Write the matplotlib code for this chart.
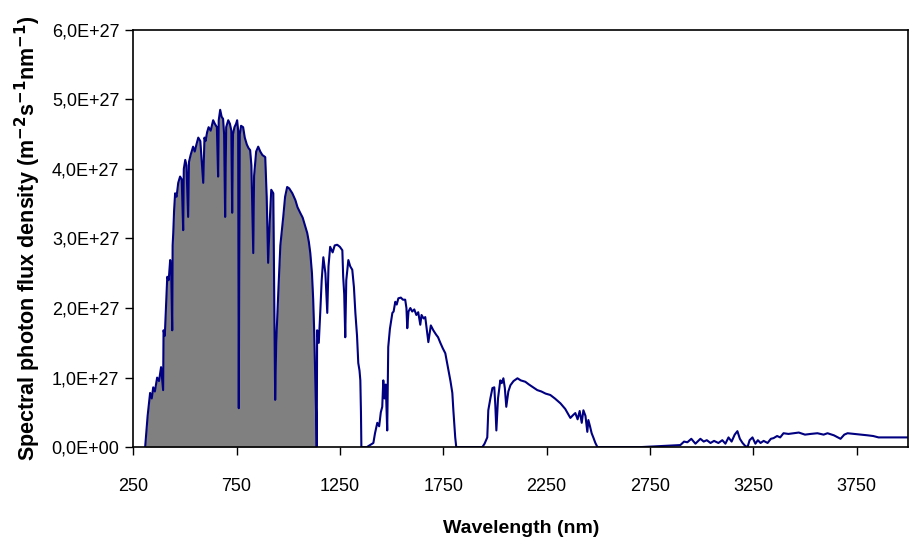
# solar spectrum, photon flux density
import numpy as np
import matplotlib.pyplot as plt
from matplotlib.ticker import FuncFormatter

# wavelength (nm) and flux (x1e27 m-2 s-1 nm-1)
wl_uv_nir = [308, 320, 332, 340, 347, 355, 366, 375, 385, 395, 397, 403, 410, 415, 422, 429,
             434, 439, 441, 444, 448, 453, 460, 468, 477, 485, 492, 495, 502, 508, 516, 520,
             528, 540, 548, 556, 565, 575, 589, 595, 600, 608, 615, 625, 637, 645, 655, 661,
             664, 671, 678, 685, 690, 695, 700, 710, 718, 725, 729, 733, 740, 748, 753, 758,
             761, 763, 766, 772, 782, 790, 800, 808, 816, 822, 828, 831, 835, 845, 855, 865,
             875, 889, 896, 903, 910, 918, 928, 932, 937, 942, 952, 962, 976, 985, 995, 1005,
             1020, 1035, 1045, 1058, 1070, 1080, 1092, 1100, 1107, 1115, 1121, 1126, 1131, 1136, 1138]
flux_uv_nir = [0.00, 0.45, 0.78, 0.70, 0.86, 0.80, 1.00, 0.95, 1.15, 0.82, 1.68, 1.60, 2.10, 2.45, 2.40, 2.69,
               2.55, 1.68, 2.90, 3.08, 3.40, 3.65, 3.60, 3.80, 3.89, 3.85, 3.12, 4.00, 4.13, 4.05, 3.31, 4.10,
               4.20, 4.32, 4.25, 4.35, 4.45, 4.40, 3.80, 4.45, 4.40, 4.53, 4.60, 4.55, 4.70, 4.65, 4.60, 3.89,
               4.70, 4.85, 4.75, 4.72, 4.50, 3.31, 4.60, 4.70, 4.65, 4.55, 3.37, 4.50, 4.60, 4.65, 4.70, 4.55,
               0.56, 2.50, 4.50, 4.62, 4.60, 4.45, 4.35, 4.30, 4.27, 4.05, 3.20, 2.79, 3.90, 4.25, 4.32, 4.25,
               4.20, 4.17, 3.60, 2.65, 3.20, 3.70, 3.65, 2.40, 0.68, 1.50, 2.22, 2.90, 3.31, 3.60, 3.74, 3.72,
               3.65, 3.55, 3.45, 3.37, 3.30, 3.20, 3.08, 2.95, 2.79, 2.50, 2.12, 1.64, 1.00, 0.35, 0.00]

wl_ir = [1140, 1148, 1155, 1162, 1170, 1180, 1189, 1195, 1203, 1215, 1225, 1237, 1250, 1262, 1266, 1271,
         1276, 1281, 1291, 1300, 1310, 1318, 1325, 1333, 1339, 1345, 1349, 1352, 1354, 1380, 1412,
         1420, 1431, 1440, 1448, 1455, 1460, 1466, 1472, 1479, 1484, 1492, 1504, 1510, 1518, 1525, 1533,
         1545, 1555, 1566, 1572, 1576, 1582, 1591, 1600, 1610, 1620, 1629, 1639, 1645, 1655, 1663, 1678,
         1690, 1702, 1715, 1725, 1736, 1748, 1760, 1775, 1785, 1794, 1799, 1808, 1813, 1880, 1939,
         1950, 1963, 1968, 1978, 1988, 1997, 2002, 2007, 2015, 2026, 2033, 2041, 2048, 2055, 2065, 2075,
         2090, 2109, 2125, 2147, 2165, 2185, 2205, 2225, 2245, 2268, 2290, 2317, 2340, 2365, 2378, 2389,
         2400, 2410, 2420, 2428, 2438, 2447, 2452, 2460, 2468, 2476, 2486, 2496, 2700, 2897,
         2915, 2931, 2950, 2970, 2994, 3010, 3025, 3043, 3060, 3081, 3100, 3115, 3130, 3145, 3160, 3173,
         3185, 3198, 3210, 3222, 3232, 3246, 3260, 3272, 3285, 3300, 3319, 3335, 3348, 3365, 3380, 3396,
         3420, 3444, 3470, 3500, 3527, 3560, 3590, 3609, 3640, 3672, 3690, 3706, 3740, 3770, 3803, 3830,
         3856, 3900, 3950, 4000]
flux_ir = [1.68, 1.50, 1.93, 2.40, 2.73, 2.50, 1.93, 2.60, 2.88, 2.80, 2.90, 2.91, 2.88, 2.83, 2.45, 2.20,
           1.58, 2.40, 2.69, 2.60, 2.55, 2.30, 1.93, 1.60, 1.21, 1.10, 0.96, 0.50, 0.00, 0.00, 0.06,
           0.20, 0.35, 0.30, 0.50, 0.58, 0.96, 0.70, 0.90, 0.24, 1.44, 1.70, 1.93, 1.95, 2.09, 2.05, 2.14,
           2.15, 2.12, 2.12, 2.00, 1.71, 1.95, 2.00, 1.95, 1.98, 1.90, 1.94, 1.76, 1.90, 1.85, 1.87, 1.51,
           1.75, 1.68, 1.62, 1.58, 1.50, 1.42, 1.35, 1.11, 0.95, 0.78, 0.53, 0.14, 0.00, 0.00, 0.00,
           0.05, 0.14, 0.53, 0.70, 0.85, 0.86, 0.60, 0.24, 0.70, 0.96, 0.92, 0.99, 0.85, 0.58, 0.80, 0.89,
           0.95, 0.99, 0.96, 0.94, 0.90, 0.86, 0.82, 0.80, 0.77, 0.75, 0.70, 0.63, 0.55, 0.42, 0.46, 0.49,
           0.40, 0.52, 0.35, 0.53, 0.45, 0.22, 0.39, 0.30, 0.20, 0.14, 0.06, 0.00, 0.00, 0.03,
           0.08, 0.07, 0.12, 0.05, 0.12, 0.08, 0.10, 0.06, 0.09, 0.06, 0.10, 0.05, 0.14, 0.08, 0.18, 0.23,
           0.12, 0.06, 0.02, 0.00, 0.10, 0.14, 0.05, 0.10, 0.06, 0.09, 0.06, 0.12, 0.13, 0.16, 0.14, 0.20,
           0.19, 0.20, 0.21, 0.18, 0.19, 0.20, 0.18, 0.20, 0.17, 0.12, 0.18, 0.20, 0.19, 0.18, 0.17, 0.16,
           0.14, 0.14, 0.14, 0.14]

wl = np.array(wl_uv_nir + wl_ir)
flux = np.array(flux_uv_nir + flux_ir) * 1e27

plt.rcParams['font.family'] = ['Liberation Sans', 'DejaVu Sans']

fig = plt.figure(figsize=(9.12, 5.42), dpi=100)
ax = fig.add_axes([0.146, 0.175, 0.85, 0.77])

n1 = len(wl_uv_nir)
ax.fill_between(wl[:n1], 0, flux[:n1], color='#808080', lw=0)
ax.plot(wl, flux, color='#000080', lw=1.5)

ax.set_xlim(250, 4000)
ax.set_ylim(0, 6e27)
ax.set_xticks(np.arange(250, 4000, 500))
ax.set_yticks(np.arange(0, 6.01e27, 1e27))
ax.yaxis.set_major_formatter(FuncFormatter(lambda v, p: ('%.1E' % v).replace('.', ',')))
ax.tick_params(labelsize=13, length=6, width=1, direction='out', pad=4)
ax.tick_params(axis='x', pad=16)
for s in ax.spines.values():
    s.set_linewidth(1.2)

ax.set_xlabel('Wavelength (nm)', fontsize=14, fontweight='bold', labelpad=18)
ax.set_ylabel('Spectral photon flux density (m$^{\\mathbf{-2}}$s$^{\\mathbf{-1}}$nm$^{\\mathbf{-1}}$)',
              fontsize=15.5, fontweight='bold', labelpad=6)

fig.savefig('out.png', dpi=100)
